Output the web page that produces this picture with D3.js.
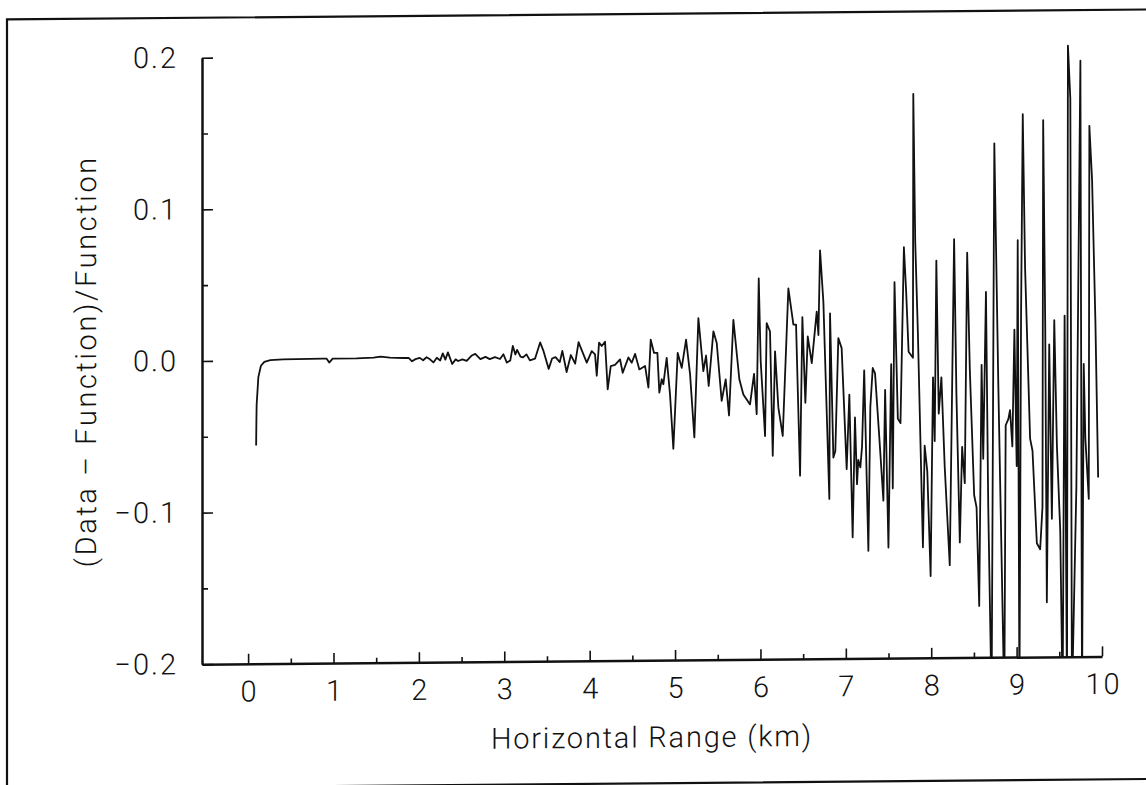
<!DOCTYPE html>
<html><head><meta charset="utf-8">
<script src="https://cdn.jsdelivr.net/npm/d3@7"></script>
<style>
html,body{margin:0;padding:0;background:#fff}
svg{display:block}
text{font-family:Roboto,"Open Sans","DejaVu Sans",sans-serif;font-weight:300;fill:#111}
</style></head>
<body><svg id="chart" width="1146" height="785"></svg>
<script>
// ---- data ----
const rangeKm = [
  0.094,0.097,0.10,0.12,0.15,0.19,0.26,0.41,0.88,0.92,0.95,0.99,1.27,1.47,1.55,1.66,1.82,
  1.88,1.92,1.96,2.01,2.05,2.09,2.13,2.17,2.21,2.25,2.28,2.31,2.34,2.39,2.43,2.46,2.51,2.56,2.62,2.66,2.72,2.78,2.83,2.89,2.95,2.99,
  3.03,3.07,3.10,3.13,3.15,3.19,3.22,3.26,3.30,3.36,3.42,3.46,3.52,3.56,3.60,3.65,3.68,3.73,3.78,3.83,3.87,
  3.888,3.966,4.024,4.063,4.083,4.110,4.141,4.180,4.211,4.247,4.297,4.356,4.387,4.454,4.493,4.532,4.582,4.649,4.688,4.715,4.754,4.793,4.816,4.844,4.863,4.902,4.941,4.980,
  5.031,5.078,5.129,5.176,5.226,5.273,5.331,5.363,5.394,5.449,5.488,5.546,5.593,5.632,5.683,5.753,5.800,5.878,5.925,5.956,5.980,
  6.003,6.054,6.073,6.112,6.144,6.171,6.210,6.261,6.327,6.386,6.417,6.464,6.491,6.526,6.554,6.601,6.659,6.679,6.698,6.737,6.807,6.815,6.854,6.877,6.912,6.951,
  7.010,7.041,7.080,7.107,7.131,7.146,7.170,7.190,7.215,7.264,7.287,7.315,7.342,7.393,7.440,7.460,7.499,7.531,7.550,7.570,7.609,7.640,7.680,7.707,7.735,7.786,7.790,7.813,7.844,7.903,7.923,7.954,7.993,
  8.021,8.041,8.060,8.088,8.119,8.158,8.217,8.268,8.295,8.335,8.362,8.393,8.421,8.452,8.503,8.531,8.562,8.590,8.609,8.641,8.668,8.707,8.739,8.786,8.856,8.872,8.903,8.923,8.950,8.974,
  9.001,9.013,9.033,9.052,9.072,9.099,9.158,9.186,9.237,9.276,9.303,9.311,9.335,9.354,9.382,9.413,9.441,9.472,9.511,9.539,9.562,9.590,9.601,9.629,9.648,9.700,9.747,9.766,9.786,9.805,9.845,9.852,9.884,9.923,9.955
];
const residual = [
  -0.056,-0.040,-0.029,-0.011,-0.0035,-0.0009,0.0002,0.0006,0.0008,0.0008,-0.0018,0.0008,0.0008,0.0012,0.0018,0.0012,0.0008,
  0.0008,-0.0014,0.0,0.0008,-0.0008,0.0012,-0.0002,-0.0023,0.0008,-0.001,0.0036,-0.0005,0.0043,-0.0034,-0.0004,-0.0015,-0.0004,-0.0015,0.0021,0.0031,-0.0004,0.0011,-0.0004,0.0008,-0.0004,0.0027,
  -0.0028,-0.0015,0.0081,0.0025,0.0055,0.001,0.0005,0.0025,-0.0015,-0.0004,0.0103,0.0045,-0.0072,-0.0004,0.0005,-0.0028,0.0046,-0.0094,0.0018,-0.0039,0.0103,
  0.0076,-0.0033,0.0043,0.0021,-0.012,0.0098,0.0076,0.0104,-0.021,-0.0057,-0.005,-0.0014,-0.0102,-0.0001,-0.0036,0.0022,-0.0081,-0.0059,-0.0201,0.0115,0.0027,0.0027,-0.0235,-0.0147,-0.018,-0.0006,-0.0247,-0.0606,
  0.0026,-0.0073,0.0113,-0.0117,-0.0532,0.0254,-0.0096,0.0007,-0.0194,0.0166,0.0089,-0.0293,-0.0152,-0.039,0.024,-0.0152,-0.0252,-0.0318,-0.0117,-0.0382,0.0512,
  -0.0034,-0.0527,0.0217,0.0162,-0.0658,0.0031,-0.0341,-0.0528,0.0445,0.0206,0.0206,-0.0791,0.0255,-0.031,0.0127,-0.0049,0.029,0.0136,0.0694,0.0355,-0.0946,0.0278,-0.0673,-0.063,0.0114,0.0048,
  -0.075,-0.0259,-0.120,-0.041,-0.085,-0.069,-0.074,-0.060,-0.010,-0.129,-0.034,-0.0085,-0.012,-0.055,-0.096,-0.023,-0.127,-0.006,-0.088,0.048,-0.042,-0.045,0.071,0.041,0.002,-0.002,0.172,0.074,0.014,-0.127,-0.060,-0.077,-0.146,
  -0.015,-0.057,0.062,-0.039,-0.015,-0.074,-0.139,0.076,-0.026,-0.124,-0.061,-0.085,0.067,-0.010,-0.093,-0.101,-0.166,-0.007,-0.069,0.041,-0.101,-0.23,0.139,-0.021,-0.23,-0.047,-0.043,-0.037,-0.061,0.016,
  -0.074,0.075,-0.23,0.025,0.158,0.057,-0.056,-0.064,-0.125,-0.129,-0.101,0.154,0.020,-0.164,0.006,-0.109,0.022,-0.061,-0.117,-0.23,0.025,-0.23,0.203,0.168,-0.23,-0.088,0.193,-0.23,-0.007,-0.056,-0.096,0.150,0.114,0.020,-0.082
];
const xMajorTicks = [0,1,2,3,4,5,6,7,8,9,10];
const xMinorTicks = [0.5,1.5,2.5,3.5,4.5,5.5,6.5,7.5,8.5,9.5];
const xTickLabels = ["0","1","2","3","4","5","6","7","8","9","10"];
const yMajorTicks = [-0.2,-0.1,0.0,0.1,0.2];
const yMinorTicks = [-0.15,-0.05,0.05,0.15];
const yTickLabels = ["\u22120.2","\u22120.1","0.0","0.1","0.2"];
const xTitle = "Horizontal Range (km)";
const yTitle = "(Data \u2013 Function)/Function";

// ---- layout ----
const svg = d3.select("#chart");
const root = svg.append("g").attr("transform","skewY(-0.5)");

const x = d3.scaleLinear().domain([-0.54,10]).range([202,1102]);
const y = d3.scaleLinear().domain([-0.2,0.2]).range([666,59.5]);

// frame
root.append("path")
  .attr("d","M1160,19.5 L7,19.5 L7,789 L1160,789")
  .attr("fill","none").attr("stroke","#111").attr("stroke-width",2.2);

// clip
svg.append("defs").append("clipPath").attr("id","plotclip")
  .append("rect").attr("x",202).attr("y",30).attr("width",900).attr("height",y(-0.2)-30);

// x axis
const xAxisG = root.append("g").attr("transform",`translate(0,${y(-0.2)})`);
xAxisG.call(d3.axisBottom(x).tickValues(xMajorTicks).tickFormat((d,i)=>xTickLabels[i])
  .tickSizeInner(-10).tickSizeOuter(0).tickPadding(17));
const xMinorG = root.append("g").attr("transform",`translate(0,${y(-0.2)})`);
xMinorG.call(d3.axisBottom(x).tickValues(xMinorTicks).tickFormat("").tickSizeInner(-5).tickSizeOuter(0));
xMinorG.select(".domain").remove();

// y axis
const yAxisG = root.append("g").attr("transform",`translate(${x(-0.54)},0)`);
yAxisG.call(d3.axisLeft(y).tickValues(yMajorTicks).tickFormat((d,i)=>yTickLabels[i])
  .tickSizeInner(-11).tickSizeOuter(0).tickPadding(24));
const yMinorG = root.append("g").attr("transform",`translate(${x(-0.54)},0)`);
yMinorG.call(d3.axisLeft(y).tickValues(yMinorTicks).tickFormat("").tickSizeInner(-6).tickSizeOuter(0));
yMinorG.select(".domain").remove();

root.selectAll(".domain").attr("stroke","#111").attr("stroke-width",2.5);
root.selectAll(".tick line").attr("stroke","#111").attr("stroke-width",1.6);
root.selectAll(".tick text").attr("font-size",29).attr("font-family",null).attr("fill","#111")
  .style("letter-spacing","2px");
xAxisG.selectAll(".tick text").attr("dx","1px");

// line
const pts = rangeKm.map((d,i)=>[d,residual[i]]);
root.append("path").datum(pts)
  .attr("clip-path","url(#plotclip)")
  .attr("fill","none").attr("stroke","#111").attr("stroke-width",1.8).attr("stroke-linejoin","round")
  .attr("d",d3.line().x(d=>x(d[0])).y(d=>y(d[1])));

// titles
root.append("text").attr("x",(x(-0.54)+x(10))/2).attr("y",753)
  .attr("text-anchor","middle").attr("font-size",29).style("letter-spacing","1.8px").text(xTitle);
root.append("text").attr("transform","translate(86,362) rotate(-90)")
  .attr("text-anchor","middle").attr("dominant-baseline","central")
  .attr("font-size",29).style("letter-spacing","2.6px").text(yTitle);
</script></body></html>
